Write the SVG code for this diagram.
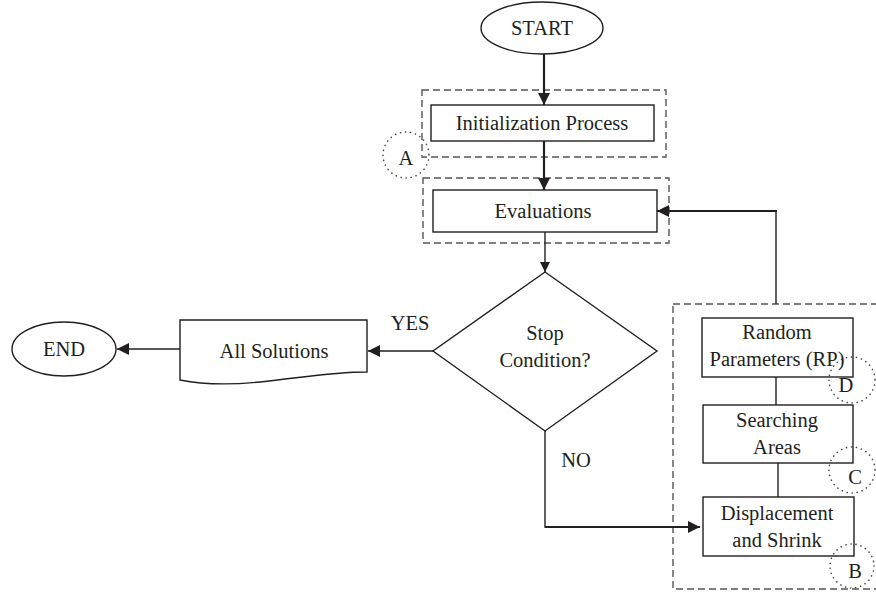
<svg xmlns="http://www.w3.org/2000/svg" width="876" height="593" viewBox="0 0 876 593">
<defs>
<marker id="ah" viewBox="0 0 10 10" refX="10" refY="5" markerWidth="10" markerHeight="10" markerUnits="userSpaceOnUse" orient="auto"><path d="M0,0 L10,5 L0,10 z" fill="#231f20"/></marker>
<marker id="ahb" viewBox="0 0 10 10" refX="10" refY="5" markerWidth="12" markerHeight="12" markerUnits="userSpaceOnUse" orient="auto"><path d="M0,0 L10,5 L0,10 z" fill="#231f20"/></marker>
</defs>
<style>
.s{fill:#fff;stroke:#231f20;stroke-width:1.4}
.d{fill:none;stroke:#555;stroke-width:1.4;stroke-dasharray:7 4}
.c{fill:none;stroke:#444;stroke-width:1.6;stroke-dasharray:0.1 5;stroke-linecap:round}
.l{fill:none;stroke:#231f20;stroke-width:1.4}
.lb{fill:none;stroke:#231f20;stroke-width:2.2}
text{font-family:"Liberation Serif","Times New Roman",serif;font-size:20.5px;fill:#231f20;text-anchor:middle}
</style>
<rect width="876" height="593" fill="#fff"/>
<g id="groupA">
<rect class="d" x="422" y="90" width="244" height="67"/>
<rect class="d" x="423" y="178" width="246" height="65"/>
</g>
<g id="groupRight">
<rect class="d" x="673" y="304" width="220" height="285"/>
</g>
<g id="connectors">
<line class="lb" x1="544" y1="54" x2="544" y2="105" marker-end="url(#ahb)"/>
<line class="lb" x1="544" y1="141" x2="544" y2="190" marker-end="url(#ahb)"/>
<line class="l" x1="545" y1="232" x2="545" y2="272" marker-end="url(#ah)"/>
<line class="l" x1="433" y1="351" x2="368" y2="351" marker-end="url(#ahb)"/>
<line class="l" x1="180" y1="349" x2="117" y2="349" marker-end="url(#ahb)"/>
<polyline class="l" points="545,431 545,527 560,527"/>
<line class="lb" x1="545" y1="527" x2="700" y2="527" marker-end="url(#ahb)"/>
<line class="l" x1="776" y1="304" x2="776" y2="211"/>
<line class="lb" x1="777" y1="211" x2="657" y2="211" marker-end="url(#ahb)"/>
<line class="l" x1="776" y1="377" x2="776" y2="405"/>
<line class="l" x1="778" y1="463" x2="778" y2="497"/>
</g>
<g id="start">
<ellipse class="s" cx="542" cy="28" rx="61" ry="26"/>
<text x="542" y="35">START</text>
</g>
<g id="init">
<rect class="s" x="431" y="105" width="223" height="36"/>
<text x="542" y="130">Initialization Process</text>
</g>
<g id="eval">
<rect class="s" x="433" y="190" width="224" height="42"/>
<text x="543" y="218">Evaluations</text>
</g>
<g id="decision">
<polygon class="s" points="545,272 657,351 545,431 433,351"/>
<text x="545" y="340">Stop</text>
<text x="545" y="367">Condition?</text>
</g>
<g id="solutions">
<path class="s" d="M180,320 L367,320 L367,372 C330,372 300,378 260,382 C220,386 195,383 180,380 Z"/>
<text x="274" y="358">All Solutions</text>
</g>
<g id="end">
<ellipse class="s" cx="64" cy="349" rx="52" ry="27"/>
<text x="64" y="356">END</text>
</g>
<g id="labels">
<text x="410" y="330">YES</text>
<text x="576" y="467">NO</text>
</g>
<g id="rp">
<rect class="s" x="702" y="318" width="151" height="59"/>
<text x="777" y="339">Random</text>
<text x="777" y="366">Parameters (RP)</text>
</g>
<g id="sa">
<rect class="s" x="703" y="405" width="150" height="58"/>
<text x="777" y="427">Searching</text>
<text x="777" y="454">Areas</text>
</g>
<g id="ds">
<rect class="s" x="703" y="497" width="151" height="59"/>
<text x="777" y="520">Displacement</text>
<text x="777" y="547">and Shrink</text>
</g>
<g id="markA">
<circle class="c" cx="406" cy="155" r="23"/>
<text x="406" y="165">A</text>
</g>
<g id="markD">
<circle class="c" cx="852" cy="380" r="23"/>
<text x="846" y="392">D</text>
</g>
<g id="markC">
<circle class="c" cx="852" cy="470" r="23"/>
<text x="855" y="484">C</text>
</g>
<g id="markB">
<circle class="c" cx="852" cy="566" r="22"/>
<text x="855" y="578">B</text>
</g>
</svg>
